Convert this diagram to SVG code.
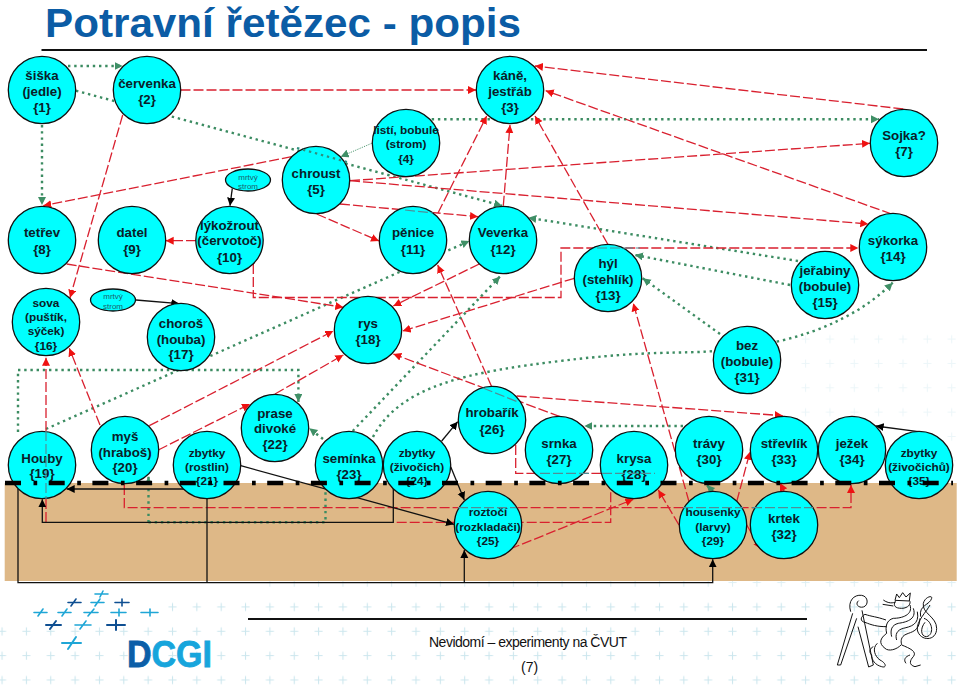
<svg xmlns="http://www.w3.org/2000/svg" width="960" height="686" viewBox="0 0 960 686">
<style>
text{font-family:"Liberation Sans",Arial,sans-serif;fill:#0a2028}
.n{fill:#00ffff;stroke:#111;stroke-width:1.3}
.t{font-size:13.3px;font-weight:bold;text-anchor:middle}
.s{font-size:11.8px;font-weight:bold;text-anchor:middle}
.m{font-size:8px;text-anchor:middle;fill:#1c5f6c}
.r{fill:none;stroke:#d9202f;stroke-width:1.3;stroke-dasharray:10 3;marker-end:url(#ar)}
.r0{fill:none;stroke:#d9202f;stroke-width:1.3;stroke-dasharray:10 3}
.g{fill:none;stroke:#3c8c62;stroke-width:2.4;stroke-dasharray:2.4 3.8;marker-end:url(#ag)}
.g0{fill:none;stroke:#3c8c62;stroke-width:2.4;stroke-dasharray:2.4 3.8}
.b{fill:none;stroke:#111;stroke-width:1.3;marker-end:url(#ab)}
.b0{fill:none;stroke:#111;stroke-width:1.3}
.x{fill:none;stroke:#4f8f98;stroke-width:1.2;stroke-dasharray:10 3}
.lm{fill:none;stroke-width:1.6;stroke-linecap:round}
.lion{fill:none;stroke:#111;stroke-width:3}
</style>
<defs>
<marker id="ar" markerUnits="userSpaceOnUse" markerWidth="9" markerHeight="9" refX="8" refY="4" orient="auto"><path d="M0,0L8,4L0,8Z" fill="#ee1111"/></marker>
<marker id="ag" markerUnits="userSpaceOnUse" markerWidth="9" markerHeight="9" refX="8" refY="4" orient="auto"><path d="M0,0L8,4L0,8Z" fill="#3f8f66"/></marker>
<marker id="ab" markerUnits="userSpaceOnUse" markerWidth="9" markerHeight="9" refX="8" refY="4" orient="auto"><path d="M0,0L8,4L0,8Z" fill="#000"/></marker>
<pattern id="pl" patternUnits="userSpaceOnUse" x="939.5" y="667.8" width="24.35" height="24.35"><path d="M8.2,12.2H16.2M12.2,8.2V16.2" stroke="#bfe0e9" stroke-width="1.1"/></pattern>
</defs>
<rect width="960" height="686" fill="#fff"/>
<g id="background">
<rect x="0" y="620" width="960" height="66" fill="url(#pl)" opacity=".8"/>
<rect x="165" y="596" width="795" height="24" fill="url(#pl)" opacity=".8"/>
<rect x="250" y="574" width="710" height="22" fill="url(#pl)" opacity=".5"/>
<rect x="800" y="330" width="160" height="150" fill="url(#pl)" opacity=".3"/>
<rect x="4.7" y="483" width="952" height="98" fill="#deb887"/>
</g>
<g id="title">
<text x="45" y="37" font-size="40" font-weight="bold" textLength="476" lengthAdjust="spacingAndGlyphs" style="fill:#0b5ca5">Potravní řetězec - popis</text>
<path d="M41.5,50H927" stroke="#111" stroke-width="2"/>
</g>
<g id="connectors">
<g id="green">
<path class="g" d="M68,66H122.7"/>
<path class="g" d="M42,125V205"/>
<path class="g" d="M76,90.7L502,205.7"/>
<path class="g" d="M431.7,119.3H879"/>
<path class="g" style="stroke-width:.9;stroke-dasharray:1.2 1.2" d="M371.7,143.3L340.7,156.7"/>
<path class="g" d="M798,261L528.3,217.7"/>
<path class="g" d="M790,285L635,255"/>
<path class="g" d="M720,334L642.7,278.3"/>
<path class="g" d="M776.7,341.7Q850,325 892.7,282.7"/>
<path class="g" d="M46,429L469.3,241"/>
<path class="g" d="M18,432V370H298.4V402"/>
<path class="g" d="M323,439L309.3,428.3"/>
<path class="g" d="M352.7,431L500,276.5"/>
<path class="g0" d="M373,437C400,385 470,372 560,361S680,354 715,351"/>
<path class="g" d="M148.5,522.3V476.7"/>
<path class="g0" d="M148.5,522.3H325.5V490"/>
<path class="g" d="M683,426H584.3"/>
<path class="g" d="M713,491.7L706.7,485"/>
</g>
<g id="red">
<path class="r" d="M180.5,90H476"/>
<path class="r" d="M122.7,115L70,297.7"/>
<path class="r" d="M291.7,156.7L43.3,205.7"/>
<path class="r" d="M316.7,214L379,241"/>
<path class="r" d="M340,204L478,216.7"/>
<path class="r" d="M350,180.7L870,143.3"/>
<path class="r" d="M350,180.7L868.3,224"/>
<path class="r" d="M438,213L486.7,116"/>
<path class="r" d="M503.3,205.7L510,125"/>
<path class="r" d="M607.7,244L535,116"/>
<path class="r" d="M903.3,109L535,66"/>
<path class="r" d="M891.7,214L545.7,90.7"/>
<path class="r" d="M196,240.7H165.7"/>
<path class="r" d="M66.7,264L343.3,307.3"/>
<path class="r" d="M253.3,264V297.5H561V248H858.3"/>
<path class="r" d="M479.3,264L393.3,306"/>
<path class="r" d="M574.3,278.3L402.7,331"/>
<path class="r" d="M491.7,386.7L437.7,265"/>
<path class="r" d="M560,416.7L393.3,354"/>
<path class="r" d="M516.7,396L782.7,415.7"/>
<path class="r" d="M515.7,445V473.3H660.7"/>
<path class="r" d="M689,501.7L633.3,303.3"/>
<path class="r" d="M100,425L69.3,348.3"/>
<path class="r" d="M149.3,425.7L333.3,331"/>
<path class="r" d="M158.3,450L250,404"/>
<path class="r" d="M275,394L343.3,355"/>
<path class="r" d="M46,522V357.7"/>
<path class="r" d="M124.3,485V507.7H851V485"/>
<path class="r" d="M784,491L780,483"/>
<path class="r0" d="M396.7,522.3H610.7V490"/>
<path class="r" d="M510,549L633.3,499.3"/>
<path class="r" d="M679,525L658.3,490"/>
<path class="r" d="M746.7,525L761,549"/>
<path class="r" d="M736.7,501.7L750,451.7"/>
</g>
<g id="black">
<path class="b" d="M232.3,188.3L230,205.7"/>
<path class="b" d="M136,300L179.3,303.7"/>
<path class="b" d="M441.7,441L457.7,421.7"/>
<path class="b" d="M450.7,466.7L464.3,500"/>
<path class="b" d="M240.7,465.7L454,524.3"/>
<path class="b" d="M918.3,431.7L875.7,426"/>
<path class="b" d="M186.7,489H66.7"/>
<path class="b" d="M393.3,488V522.3H42.3V499.3"/>
<path class="b" d="M18,489V582.7H712.7V559.3"/>
<path class="b0" d="M207,497V582.7"/>
<path class="b" d="M464.3,582.7V550"/>
</g>
</g>
<g id="n1"><circle class="n" cx="42" cy="90" r="33.7"/><text class="t"><tspan x="42" y="80">šiška</tspan><tspan x="42" y="96">(jedle)</tspan><tspan x="42" y="112">{1}</tspan></text></g>
<g id="n2"><circle class="n" cx="147" cy="90" r="33.7"/><text class="t"><tspan x="147" y="87.5">červenka</tspan><tspan x="147" y="103.5">{2}</tspan></text></g>
<g id="n3"><circle class="n" cx="510" cy="90" r="33.7"/><text class="t"><tspan x="510" y="80">káně,</tspan><tspan x="510" y="96">jestřáb</tspan><tspan x="510" y="112">{3}</tspan></text></g>
<g id="n4"><circle class="n" cx="406" cy="143" r="33.7"/><text class="s"><tspan x="406" y="133.5">listí, bobule</tspan><tspan x="406" y="148">(strom)</tspan><tspan x="406" y="162.5">{4}</tspan></text></g>
<g id="n5"><circle class="n" cx="316" cy="180" r="33.7"/><text class="t"><tspan x="316" y="177.5">chroust</tspan><tspan x="316" y="193.5">{5}</tspan></text></g>
<g id="n7"><circle class="n" cx="904" cy="143" r="33.7"/><text class="t"><tspan x="904" y="140">Sojka?</tspan><tspan x="904" y="156">{7}</tspan></text></g>
<g id="n8"><circle class="n" cx="42" cy="240" r="33.7"/><text class="t"><tspan x="42" y="237">tetřev</tspan><tspan x="42" y="253.5">{8}</tspan></text></g>
<g id="n9"><circle class="n" cx="132" cy="240" r="33.7"/><text class="t"><tspan x="132" y="237">datel</tspan><tspan x="132" y="253.5">{9}</tspan></text></g>
<g id="n10"><circle class="n" cx="229.5" cy="240" r="33.7"/><text class="t"><tspan x="229.5" y="229.5">lýkožrout</tspan><tspan x="229.5" y="245">(červotoč)</tspan><tspan x="229.5" y="261.5">{10}</tspan></text></g>
<g id="n11"><circle class="n" cx="413" cy="240" r="33.7"/><text class="t"><tspan x="413" y="237">pěnice</tspan><tspan x="413" y="253.5">{11}</tspan></text></g>
<g id="n12"><circle class="n" cx="503" cy="240" r="33.7"/><text class="t"><tspan x="503" y="237">Veverka</tspan><tspan x="503" y="253.5">{12}</tspan></text></g>
<g id="n13"><circle class="n" cx="608" cy="278" r="33.7"/><text class="t"><tspan x="608" y="267.5">hýl</tspan><tspan x="608" y="283.5">(stehlík)</tspan><tspan x="608" y="299.5">{13}</tspan></text></g>
<g id="n14"><circle class="n" cx="893" cy="247" r="33.7"/><text class="t"><tspan x="893" y="245">sýkorka</tspan><tspan x="893" y="261">{14}</tspan></text></g>
<g id="n15"><circle class="n" cx="825" cy="285" r="33.7"/><text class="t"><tspan x="825" y="274.5">jeřabiny</tspan><tspan x="825" y="290.5">(bobule)</tspan><tspan x="825" y="306.5">{15}</tspan></text></g>
<g id="n16"><circle class="n" cx="46" cy="322" r="33.7"/><text class="s"><tspan x="46" y="306.5">sova</tspan><tspan x="46" y="321">(puštík,</tspan><tspan x="46" y="335">sýček)</tspan><tspan x="46" y="349.5">{16}</tspan></text></g>
<g id="n17"><circle class="n" cx="181" cy="337" r="33.7"/><text class="t"><tspan x="181" y="327.5">choroš</tspan><tspan x="181" y="343.5">(houba)</tspan><tspan x="181" y="359">{17}</tspan></text></g>
<g id="n18"><circle class="n" cx="368" cy="330" r="33.7"/><text class="t"><tspan x="368" y="328">rys</tspan><tspan x="368" y="344">{18}</tspan></text></g>
<g id="n19"><circle class="n" cx="42" cy="465" r="33.7"/><text class="t"><tspan x="42" y="462.5">Houby</tspan><tspan x="42" y="478">{19}</tspan></text></g>
<g id="n20"><circle class="n" cx="125" cy="450" r="33.7"/><text class="t"><tspan x="125" y="440.5">myš</tspan><tspan x="125" y="456.5">(hraboš)</tspan><tspan x="125" y="472">{20}</tspan></text></g>
<g id="n21"><circle class="n" cx="207" cy="465" r="33.7"/><text class="s"><tspan x="207" y="456.5">zbytky</tspan><tspan x="207" y="470.5">(rostlin)</tspan><tspan x="207" y="484.5">{21}</tspan></text></g>
<g id="n22"><circle class="n" cx="275" cy="428" r="33.7"/><text class="t"><tspan x="275" y="417.5">prase</tspan><tspan x="275" y="433">divoké</tspan><tspan x="275" y="449">{22}</tspan></text></g>
<g id="n23"><circle class="n" cx="349" cy="465" r="33.7"/><text class="t"><tspan x="349" y="462.5">semínka</tspan><tspan x="349" y="478.5">{23}</tspan></text></g>
<g id="n24"><circle class="n" cx="417" cy="465" r="33.7"/><text class="s"><tspan x="417" y="456.5">zbytky</tspan><tspan x="417" y="470.5">(živočich)</tspan><tspan x="417" y="484.5">{24}</tspan></text></g>
<g id="n25"><circle class="n" cx="488" cy="525" r="33.7"/><text class="s"><tspan x="488" y="515.5">roztočí</tspan><tspan x="488" y="530.5">(rozkladači)</tspan><tspan x="488" y="544.5">{25}</tspan></text></g>
<g id="n26"><circle class="n" cx="492" cy="420" r="33.7"/><text class="t"><tspan x="492" y="417">hrobařík</tspan><tspan x="492" y="433.5">{26}</tspan></text></g>
<g id="n27"><circle class="n" cx="559" cy="450" r="33.7"/><text class="t"><tspan x="559" y="447.5">srnka</tspan><tspan x="559" y="463.5">{27}</tspan></text></g>
<g id="n28"><circle class="n" cx="634" cy="465" r="33.7"/><text class="t"><tspan x="634" y="462.5">krysa</tspan><tspan x="634" y="478.5">{28}</tspan></text></g>
<g id="n29"><circle class="n" cx="713" cy="525" r="33.7"/><text class="s"><tspan x="713" y="515.5">housenky</tspan><tspan x="713" y="530.5">(larvy)</tspan><tspan x="713" y="544.5">{29}</tspan></text></g>
<g id="n30"><circle class="n" cx="709" cy="450" r="33.7"/><text class="t"><tspan x="709" y="447.5">trávy</tspan><tspan x="709" y="463.5">{30}</tspan></text></g>
<g id="n31"><circle class="n" cx="747" cy="360" r="33.7"/><text class="t"><tspan x="747" y="350">bez</tspan><tspan x="747" y="365.5">(bobule)</tspan><tspan x="747" y="381.5">{31}</tspan></text></g>
<g id="n32"><circle class="n" cx="784" cy="525" r="33.7"/><text class="t"><tspan x="784" y="522.5">krtek</tspan><tspan x="784" y="538.5">{32}</tspan></text></g>
<g id="n33"><circle class="n" cx="784" cy="450" r="33.7"/><text class="t"><tspan x="784" y="447.5">střevlík</tspan><tspan x="784" y="463.5">{33}</tspan></text></g>
<g id="n34"><circle class="n" cx="852" cy="450" r="33.7"/><text class="t"><tspan x="852" y="447.5">ježek</tspan><tspan x="852" y="463.5">{34}</tspan></text></g>
<g id="n35"><circle class="n" cx="919" cy="465" r="33.7"/><text class="s"><tspan x="919" y="456.5">zbytky</tspan><tspan x="919" y="470.5">(živočichů)</tspan><tspan x="919" y="484.5">{35}</tspan></text></g>
<g id="dead1"><ellipse class="n" cx="248" cy="180" rx="22.5" ry="11"/><text class="m"><tspan x="248" y="179.5">mrtvý</tspan><tspan x="248" y="189">strom</tspan></text></g>
<g id="dead2"><ellipse class="n" cx="113" cy="300" rx="22.5" ry="11"/><text class="m"><tspan x="113" y="299">mrtvý</tspan><tspan x="113" y="308.5">strom</tspan></text></g>
<g id="crossings">
<path class="x" d="M46,431V499"/>
<path class="x" d="M405,210L433,213"/>
<path class="x" d="M597,248H640"/>
<path class="x" d="M483,388L518,402"/>
<path class="x" d="M540,473.3H590"/>
<path class="x" d="M602,473.3H655"/>
<path class="x" d="M458,507.7H516"/>
<path class="x" d="M683,507.7H743"/>
<path class="x" d="M752,507.7H813"/>
<path d="M297,148L347,162" fill="none" stroke="#2f8f80" stroke-width="2.2" stroke-dasharray="2.4 3.8"/>
</g>
<path id="surface" d="M5,483H953" stroke="#000" stroke-width="4.5" stroke-dasharray="16 12.5 3.7 11.5" fill="none"/>
<g id="footer">
<path d="M248,619H807" stroke="#111" stroke-width="2"/>
<text x="429" y="647" font-size="14" textLength="198" style="fill:#111">Nevidomí – experimenty na ČVUT</text>
<text x="521" y="672" font-size="14" style="fill:#111">(7)</text>
</g>
<g id="dcgi">
<text x="127" y="667" font-size="36" font-weight="bold" textLength="85" lengthAdjust="spacingAndGlyphs" stroke-width=".8"><tspan style="fill:#0c5fa8" stroke="#0c5fa8">D</tspan><tspan style="fill:#17a5dc" stroke="#17a5dc">CGI</tspan></text>
<g class="lm" stroke="#1fa6d6">
<path d="M95,594H108M103,591L100,597"/><path d="M91,602.5H104M100,599L95,606"/><path d="M34,612.5H47M43,609L38,616"/><path d="M58,612.5H71M67,609L62,616"/><path d="M84,612.5H98M94,609L88,616"/><path d="M111,612.5H126M119,609V616"/><path d="M141,612.5H158M150,609V616"/><path d="M75,625H91M86,621L80,629"/><path d="M62,643H81M76,637L68,649" stroke-width="2"/>
</g>
<g class="lm" stroke="#0f4f92">
<path d="M68,602.5H81M76,599L71,606"/><path d="M115,602.5H129M122,599V606"/><path d="M46,625H61M56,621L50,629" stroke-width="2"/><path d="M107,625H125M116,620V630" stroke-width="2"/>
</g>
</g>
<g id="lion" class="lion" transform="translate(830,585) scale(.3333)">
<path d="M62,80C52,48 72,28 95,31C116,34 116,62 100,66C85,70 74,56 86,47"/>
<path d="M68,85L22,240L32,240L80,100"/>
<path d="M96,76L130,240L116,246L84,125"/>
<path d="M195,46L200,27L208,38L218,23L228,36L241,24L238,48Z"/>
<path d="M160,45C175,56 190,55 198,50M195,50C190,62 195,70 215,70C235,70 245,55 238,46M158,58L190,63"/>
<path d="M240,60C250,90 215,100 190,100C170,105 165,125 170,145M250,70C262,105 225,112 205,115C185,120 180,135 185,155M262,80C270,120 240,125 220,130C200,135 195,150 200,165M270,100C268,140 245,140 228,148C212,155 212,170 215,178"/>
<path d="M170,145C150,160 145,175 165,190C175,200 200,195 215,178"/>
<path d="M168,105C140,95 125,95 105,88M170,125C140,125 125,120 105,112M105,88C90,95 90,110 105,112"/>
<path d="M142,175C125,190 135,215 150,225C170,235 170,250 155,245C135,240 125,225 125,210C115,200 120,190 130,185"/>
<path d="M215,180C240,190 262,200 250,215C240,225 235,240 255,245L272,240M240,210C225,215 220,225 228,235"/>
<path d="M272,95C265,60 300,60 305,40C308,30 285,35 280,55C275,85 320,95 320,130C320,170 270,170 262,135C258,110 290,80 300,60M282,100C310,110 312,150 290,155C272,155 270,130 285,112"/>
</g>
</svg>
